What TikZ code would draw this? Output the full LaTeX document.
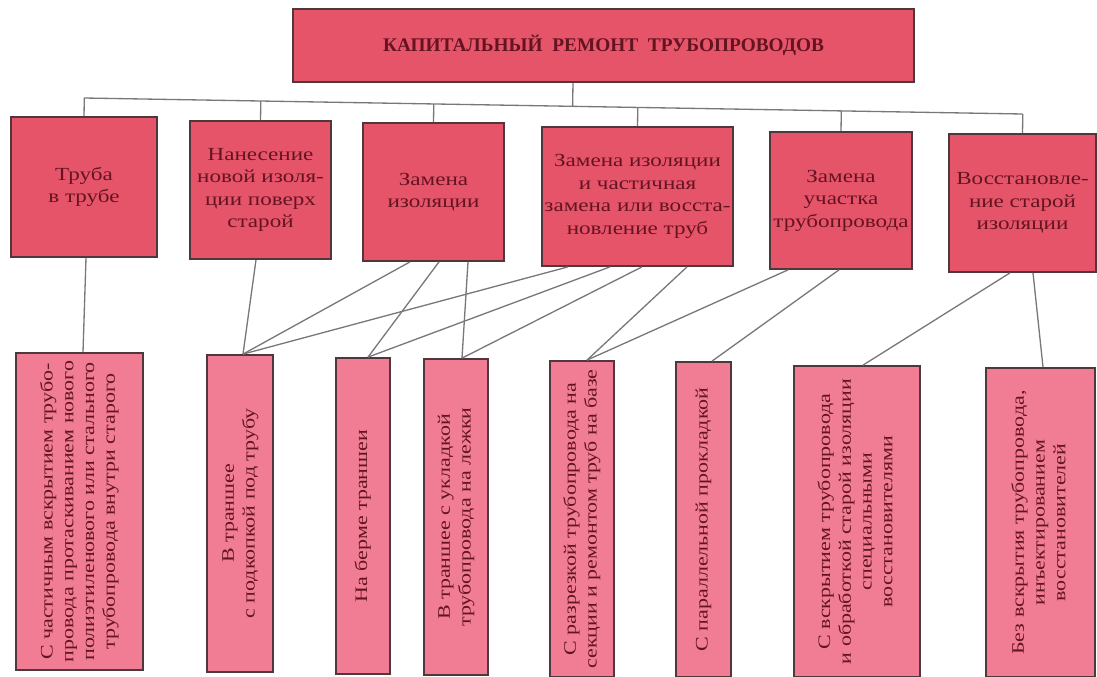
\documentclass[tikz,border=0pt]{standalone}
\usepackage{fontspec}
\setmainfont[FakeStretch=1.25]{Liberation Serif}
\newfontfamily\headfont{Liberation Serif}
\usepackage{xcolor}
\usepackage{graphicx}
\usepackage{tikz}
\usetikzlibrary{calc}

\definecolor{boxred}{RGB}{230,84,106}
\definecolor{boxpink}{RGB}{240,125,148}
\definecolor{inkred}{RGB}{100,20,32}
\definecolor{boxedge}{RGB}{80,55,60}
\definecolor{wire}{RGB}{120,120,120}

\newcommand{\vtext}[1]{\rotatebox{90}{\begin{tabular}{@{}c@{}}#1\end{tabular}}}

\begin{document}
\begin{tikzpicture}[
        headbox/.style={rectangle, draw=boxedge, fill=boxred, line width=1pt, font=\headfont\bfseries\fontsize{11}{13}\selectfont, text=inkred},
        topbox/.style={rectangle, draw=boxedge, fill=boxred, line width=1pt, align=center, font=\fontsize{10.5}{12.8}\selectfont, text=inkred, inner sep=1pt},
        lowbox/.style={rectangle, draw=boxedge, fill=boxpink, line width=1pt, font=\fontsize{10}{11.8}\selectfont, text=inkred, inner sep=1pt},
        link/.style={draw=wire, line width=0.75pt}
    ]
        \useasboundingbox (0,0) rectangle (21.94,-13.54);

        % Head
        \node[headbox, minimum width=12.42cm, minimum height=1.46cm] (head) at (12.07,-0.91) {КАПИТАЛЬНЫЙ\ \ РЕМОНТ\ \ ТРУБОПРОВОДОВ};

        % Methods
        \node[topbox, minimum width=2.92cm, minimum height=2.80cm] (t1) at (1.68,-3.74) {Труба\\в трубе};
        \node[topbox, minimum width=2.82cm, minimum height=2.76cm] (t2) at (5.21,-3.80) {Нанесение\\новой изоля-\\ции поверх\\старой};
        \node[topbox, minimum width=2.82cm, minimum height=2.76cm] (t3) at (8.67,-3.84) {Замена\\изоляции};
        \node[topbox, minimum width=3.82cm, minimum height=2.78cm] (t4) at (12.75,-3.93) {Замена изоляции\\и частичная\\замена или восста-\\новление труб};
        \node[topbox, minimum width=2.84cm, minimum height=2.74cm] (t5) at (16.82,-4.01) {Замена\\участка\\трубопровода};
        \node[topbox, minimum width=2.94cm, minimum height=2.76cm] (t6) at (20.45,-4.06) {Восстановле-\\ние старой\\изоляции};

        % Ways
        \node[lowbox, minimum width=2.54cm, minimum height=6.34cm] (b1) at (1.59,-10.23) {\vtext{С частичным вскрытием трубо-\\провода протаскиванием нового\\полиэтиленового или стального\\трубопровода внутри старого}};
        \node[lowbox, minimum width=1.32cm, minimum height=6.34cm] (b2) at (4.80,-10.27) {\vtext{В траншее\\с подкопкой под трубу}};
        \node[lowbox, minimum width=1.08cm, minimum height=6.32cm] (b3) at (7.26,-10.32) {\vtext{На берме траншеи}};
        \node[lowbox, minimum width=1.28cm, minimum height=6.32cm] (b4) at (9.12,-10.34) {\vtext{В траншее с укладкой\\трубопровода на лежки}};
        \node[lowbox, minimum width=1.28cm, minimum height=6.32cm] (b5) at (11.64,-10.38) {\vtext{С разрезкой трубопровода на\\секции и ремонтом труб на базе}};
        \node[lowbox, minimum width=1.10cm, minimum height=6.30cm] (b6) at (14.07,-10.39) {\vtext{С параллельной прокладкой}};
        \node[lowbox, minimum width=2.52cm, minimum height=6.22cm] (b7) at (17.14,-10.43) {\vtext{С вскрытием трубопровода\\и обработкой старой изоляции\\специальными\\восстановителями}};
        \node[lowbox, minimum width=2.18cm, minimum height=6.18cm] (b8) at (20.81,-10.45) {\vtext{Без вскрытия трубопровода,\\инъектированием\\восстановителей}};

        % Bus
        \coordinate (busL) at (1.68,-1.96);
        \coordinate (busR) at (20.45,-2.28);
        \coordinate (stub) at ([xshift=-0.61cm]head.south);
        \draw[link] (busL) -- (busR);
        \draw[link] (stub) -- ($(busL)!(stub)!(busR)$);
        \foreach \n in {t1,t2,t3,t4,t5,t6}
            \draw[link] (\n.north) -- ($(busL)!(\n.north)!(busR)$);

        % Connectors
        \draw[link] ([xshift=0.04cm]t1.south) -- ([xshift=0.07cm]b1.north);
        \draw[link] ([xshift=-0.09cm]t2.south) -- ([xshift=0.06cm]b2.north);
        \draw[link] ([xshift=-0.47cm]t3.south) -- ([xshift=0.06cm]b2.north);
        \draw[link] ([xshift=0.11cm]t3.south) -- ([xshift=0.10cm]b3.north);
        \draw[link] ([xshift=0.69cm]t3.south) -- ([xshift=0.12cm]b4.north);
        \draw[link] ([xshift=-1.39cm]t4.south) -- ([xshift=0.06cm]b2.north);
        \draw[link] ([xshift=-0.55cm]t4.south) -- ([xshift=0.10cm]b3.north);
        \draw[link] ([xshift=0.09cm]t4.south) -- ([xshift=0.12cm]b4.north);
        \draw[link] ([xshift=0.99cm]t4.south) -- ([xshift=0.10cm]b5.north);
        \draw[link] ([xshift=-1.06cm]t5.south) -- ([xshift=0.10cm]b5.north);
        \draw[link] ([xshift=-0.04cm]t5.south) -- ([xshift=0.17cm]b6.north);
        \draw[link] ([xshift=-0.25cm]t6.south) -- ([xshift=0.12cm]b7.north);
        \draw[link] ([xshift=0.21cm]t6.south) -- ([xshift=0.05cm]b8.north);

    \end{tikzpicture}
\end{document}
